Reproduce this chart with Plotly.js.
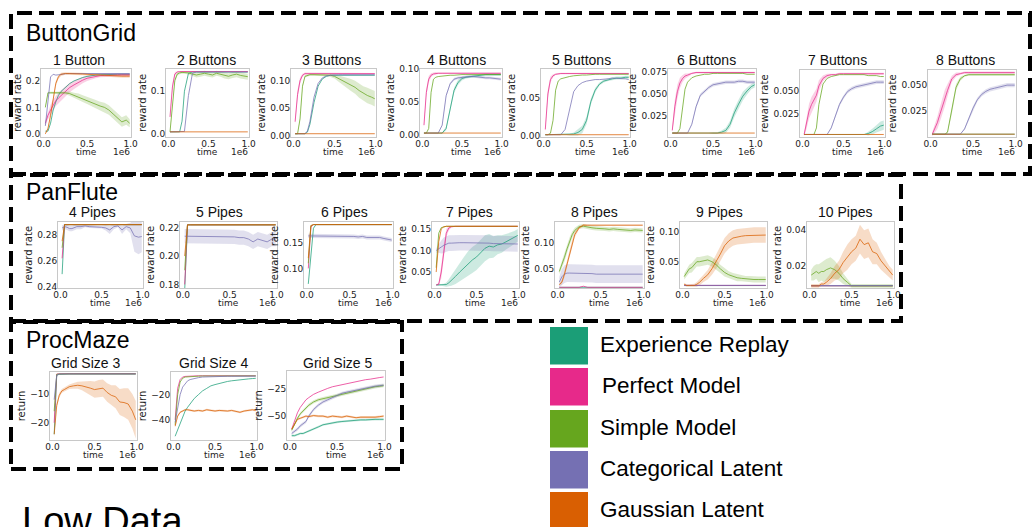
<!DOCTYPE html>
<html><head><meta charset="utf-8">
<script src="https://cdn.plot.ly/plotly-3.0.1.min.js"></script>
<style>html,body{margin:0;padding:0;background:#fff}#chart{width:1034px;height:527px}</style>
</head><body><div id="chart"></div>
<script>
// ---------- series ----------
const seriesNames = ['Experience Replay','Perfect Model','Simple Model','Categorical Latent','Gaussian Latent'];
const seriesColors = ['#1b9e77','#e7298a','#66a61e','#7570b3','#d95f02'];
// time in units of 1e6
const T = [0.02,0.05,0.08,0.11,0.14,0.17,0.2,0.25,0.3,0.35,0.4,0.45,0.5,0.55,0.6,0.65,0.7,0.75,0.8,0.85,0.9,0.95,0.99];

// ---------- ButtonGrid ----------
const b1 = [
 [0.01,0.01,0.04,0.09,0.12,0.145,0.16,0.175,0.19,0.2,0.208,0.213,0.217,0.22,0.222,0.223,0.224,0.224,0.225,0.225,0.225,0.225,0.225],
 [0.04,0.07,0.09,0.11,0.125,0.135,0.145,0.16,0.175,0.185,0.195,0.203,0.21,0.214,0.217,0.22,0.221,0.222,0.222,0.223,0.223,0.223,0.223],
 [0.1,0.155,0.155,0.155,0.155,0.155,0.155,0.155,0.152,0.145,0.14,0.133,0.127,0.12,0.113,0.105,0.1,0.09,0.075,0.06,0.045,0.052,0.04],
 [0.03,0.12,0.215,0.225,0.222,0.223,0.225,0.227,0.228,0.228,0.228,0.228,0.228,0.228,0.228,0.228,0.228,0.228,0.228,0.228,0.228,0.228,0.228],
 [0.0,0.02,0.07,0.13,0.19,0.215,0.225,0.228,0.228,0.228,0.227,0.226,0.225,0.224,0.222,0.221,0.22,0.219,0.219,0.218,0.218,0.218,0.218]];
const b1Band = [null,
 [0.01,0.015,0.02,0.02,0.02,0.02,0.02,0.02,0.018,0.016,0.014,0.012,0.01,0.008,0.007,0.006,0.006,0.005,0.005,0.005,0.005,0.005,0.005],
 [0.005,0.004,0.004,0.004,0.004,0.004,0.004,0.005,0.008,0.01,0.012,0.013,0.014,0.015,0.015,0.016,0.017,0.018,0.018,0.018,0.018,0.018,0.015],
 null,
 [0.003,0.005,0.008,0.01,0.01,0.008,0.006,0.005,0.005,0.005,0.005,0.005,0.005,0.005,0.006,0.006,0.006,0.006,0.006,0.006,0.006,0.006,0.006]];

const b2 = [
 [0.005,0.005,0.005,0.005,0.005,0.03,0.1,0.142,0.145,0.145,0.145,0.145,0.145,0.145,0.145,0.145,0.145,0.145,0.145,0.145,0.145,0.145,0.145],
 [0.04,0.11,0.14,0.145,0.146,0.146,0.146,0.146,0.146,0.146,0.146,0.146,0.146,0.146,0.146,0.146,0.146,0.146,0.146,0.146,0.146,0.146,0.146],
 [0.005,0.06,0.125,0.14,0.143,0.144,0.144,0.143,0.14,0.138,0.14,0.142,0.14,0.138,0.142,0.14,0.137,0.135,0.138,0.14,0.137,0.135,0.134],
 [0.005,0.005,0.005,0.005,0.005,0.005,0.006,0.09,0.142,0.145,0.145,0.145,0.145,0.145,0.145,0.145,0.145,0.145,0.145,0.145,0.145,0.145,0.145],
 [0.005,0.005,0.005,0.005,0.005,0.005,0.005,0.005,0.005,0.005,0.005,0.005,0.005,0.005,0.005,0.005,0.005,0.005,0.005,0.005,0.005,0.005,0.005]];
const b2Band = [null,
 [0.004,0.008,0.005,0.002,0.001,0.001,0.001,0.001,0.001,0.001,0.001,0.001,0.001,0.001,0.001,0.001,0.001,0.001,0.001,0.001,0.001,0.001,0.001],
 [0.002,0.005,0.005,0.004,0.003,0.003,0.003,0.004,0.005,0.006,0.006,0.006,0.006,0.006,0.006,0.006,0.007,0.007,0.007,0.007,0.007,0.007,0.007],
 null, null];

const b3 = [
 [0.003,0.003,0.003,0.003,0.003,0.006,0.02,0.06,0.09,0.103,0.108,0.11,0.11,0.11,0.11,0.11,0.11,0.11,0.11,0.11,0.11,0.11,0.11],
 [0.025,0.075,0.1,0.11,0.113,0.113,0.113,0.113,0.113,0.113,0.113,0.113,0.113,0.113,0.113,0.113,0.113,0.113,0.113,0.113,0.113,0.113,0.113],
 [0.003,0.003,0.03,0.09,0.108,0.11,0.111,0.111,0.111,0.111,0.111,0.11,0.108,0.104,0.1,0.096,0.092,0.088,0.082,0.077,0.073,0.07,0.067],
 [0.003,0.003,0.003,0.003,0.003,0.008,0.025,0.07,0.095,0.105,0.109,0.11,0.111,0.111,0.111,0.111,0.111,0.111,0.111,0.111,0.111,0.111,0.111],
 [0.003,0.003,0.003,0.003,0.003,0.003,0.003,0.003,0.003,0.003,0.003,0.003,0.003,0.003,0.003,0.003,0.003,0.003,0.003,0.003,0.003,0.003,0.003]];
const b3Band = [null,
 [0.004,0.008,0.006,0.003,0.002,0.002,0.002,0.001,0.001,0.001,0.001,0.001,0.001,0.001,0.001,0.001,0.001,0.001,0.001,0.001,0.001,0.001,0.001],
 [0.001,0.001,0.002,0.002,0.002,0.002,0.002,0.002,0.002,0.002,0.003,0.003,0.004,0.006,0.008,0.01,0.011,0.012,0.013,0.013,0.014,0.014,0.014],
 null, null];

const b4 = [
 [0.003,0.003,0.003,0.003,0.003,0.003,0.003,0.003,0.01,0.04,0.068,0.08,0.086,0.088,0.089,0.09,0.091,0.091,0.092,0.092,0.092,0.092,0.092],
 [0.015,0.065,0.085,0.091,0.093,0.094,0.094,0.094,0.094,0.094,0.094,0.094,0.094,0.094,0.094,0.094,0.094,0.094,0.094,0.094,0.094,0.094,0.094],
 [0.003,0.003,0.01,0.065,0.085,0.088,0.089,0.09,0.09,0.091,0.091,0.092,0.092,0.092,0.092,0.092,0.092,0.092,0.092,0.092,0.092,0.092,0.092],
 [0.003,0.003,0.003,0.003,0.003,0.003,0.003,0.015,0.06,0.078,0.085,0.087,0.088,0.089,0.089,0.089,0.088,0.088,0.087,0.087,0.086,0.085,0.085],
 [0.003,0.003,0.003,0.003,0.003,0.003,0.003,0.003,0.003,0.003,0.003,0.003,0.003,0.003,0.003,0.003,0.003,0.003,0.003,0.003,0.003,0.003,0.003]];
const b4Band = [
 [0,0,0,0,0,0,0,0.001,0.003,0.004,0.004,0.004,0.003,0.002,0.002,0.002,0.002,0.002,0.002,0.002,0.002,0.002,0.002],
 [0.003,0.006,0.005,0.003,0.002,0.002,0.001,0.001,0.001,0.001,0.001,0.001,0.001,0.001,0.001,0.001,0.001,0.001,0.001,0.001,0.001,0.001,0.001],
 null,
 [0,0,0,0,0,0,0,0.001,0.002,0.002,0.002,0.002,0.002,0.002,0.002,0.002,0.002,0.002,0.002,0.002,0.002,0.002,0.002],
 null];

const b5 = [
 [0.001,0.001,0.001,0.001,0.001,0.001,0.001,0.001,0.001,0.002,0.004,0.008,0.02,0.045,0.06,0.068,0.072,0.074,0.075,0.076,0.076,0.077,0.077],
 [0.008,0.055,0.074,0.079,0.081,0.082,0.082,0.082,0.082,0.082,0.082,0.082,0.082,0.082,0.082,0.082,0.082,0.082,0.082,0.082,0.082,0.082,0.082],
 [0.001,0.001,0.003,0.02,0.06,0.072,0.075,0.077,0.078,0.079,0.08,0.08,0.08,0.081,0.081,0.081,0.081,0.081,0.081,0.081,0.081,0.081,0.081],
 [0.001,0.001,0.001,0.001,0.001,0.001,0.001,0.008,0.035,0.058,0.066,0.07,0.072,0.073,0.074,0.074,0.075,0.075,0.076,0.076,0.076,0.075,0.074],
 [0.001,0.001,0.001,0.001,0.001,0.001,0.001,0.001,0.001,0.001,0.001,0.001,0.001,0.001,0.001,0.001,0.001,0.001,0.001,0.001,0.001,0.001,0.001]];
const b5Band = [
 [0,0,0,0,0,0,0,0,0.001,0.002,0.004,0.005,0.005,0.004,0.003,0.002,0.002,0.002,0.002,0.002,0.002,0.002,0.002],
 [0.003,0.006,0.004,0.002,0.001,0.001,0.001,0.001,0.001,0.001,0.001,0.001,0.001,0.001,0.001,0.001,0.001,0.001,0.001,0.001,0.001,0.001,0.001],
 null, null, null];

const b6 = [
 [0.005,0.005,0.005,0.005,0.005,0.005,0.005,0.005,0.005,0.005,0.005,0.005,0.005,0.005,0.006,0.008,0.015,0.028,0.038,0.047,0.053,0.058,0.06],
 [0.008,0.035,0.052,0.062,0.067,0.07,0.071,0.073,0.074,0.074,0.074,0.074,0.074,0.074,0.074,0.074,0.074,0.074,0.074,0.074,0.074,0.074,0.074],
 [0.005,0.005,0.005,0.01,0.035,0.055,0.063,0.068,0.07,0.071,0.072,0.072,0.073,0.073,0.073,0.073,0.073,0.073,0.073,0.073,0.072,0.072,0.072],
 [0.005,0.005,0.005,0.005,0.005,0.005,0.005,0.015,0.035,0.048,0.053,0.057,0.06,0.061,0.062,0.063,0.063,0.063,0.064,0.064,0.063,0.063,0.063],
 [0.005,0.005,0.005,0.005,0.005,0.005,0.005,0.005,0.005,0.005,0.005,0.005,0.005,0.005,0.005,0.005,0.005,0.005,0.005,0.005,0.005,0.005,0.005]];
const b6Band = [
 [0,0,0,0,0,0,0,0,0,0,0,0,0.001,0.001,0.002,0.003,0.004,0.005,0.005,0.005,0.004,0.003,0.003],
 [0.002,0.008,0.008,0.006,0.004,0.003,0.002,0.001,0.001,0.001,0.001,0.001,0.001,0.001,0.001,0.001,0.001,0.001,0.001,0.001,0.001,0.001,0.001],
 null,
 [0,0,0,0,0,0,0,0.001,0.002,0.002,0.002,0.002,0.002,0.002,0.002,0.002,0.002,0.002,0.002,0.002,0.002,0.002,0.002],
 null];

const b7 = [
 [0.003,0.003,0.003,0.003,0.003,0.003,0.003,0.003,0.003,0.003,0.003,0.003,0.003,0.003,0.003,0.003,0.003,0.003,0.004,0.006,0.009,0.012,0.013],
 [0.003,0.015,0.028,0.035,0.04,0.045,0.055,0.063,0.066,0.067,0.067,0.068,0.068,0.068,0.068,0.068,0.068,0.068,0.068,0.068,0.068,0.068,0.068],
 [0.003,0.003,0.003,0.003,0.003,0.01,0.035,0.057,0.063,0.065,0.066,0.067,0.067,0.067,0.067,0.067,0.067,0.067,0.066,0.066,0.066,0.065,0.065],
 [0.003,0.003,0.003,0.003,0.003,0.003,0.003,0.003,0.003,0.01,0.022,0.035,0.043,0.049,0.052,0.054,0.055,0.056,0.057,0.058,0.059,0.059,0.059],
 [0.003,0.003,0.003,0.003,0.003,0.003,0.003,0.003,0.003,0.003,0.003,0.003,0.003,0.003,0.003,0.003,0.003,0.003,0.003,0.003,0.003,0.003,0.003]];
const b7Band = [
 [0,0,0,0,0,0,0,0,0,0,0,0,0,0,0,0,0,0,0.002,0.003,0.004,0.005,0.005],
 [0.002,0.006,0.008,0.008,0.008,0.007,0.006,0.003,0.002,0.001,0.001,0.001,0.001,0.001,0.001,0.001,0.001,0.001,0.001,0.001,0.001,0.001,0.001],
 null,
 [0,0,0,0,0,0,0,0,0,0.001,0.002,0.002,0.002,0.002,0.002,0.002,0.002,0.002,0.002,0.002,0.002,0.002,0.002],
 null];

const b8 = [
 [0.003,0.003,0.003,0.003,0.003,0.003,0.003,0.003,0.003,0.003,0.003,0.003,0.003,0.003,0.003,0.003,0.003,0.003,0.003,0.003,0.003,0.003,0.003],
 [0.003,0.008,0.014,0.022,0.03,0.038,0.045,0.056,0.06,0.061,0.062,0.062,0.062,0.062,0.062,0.062,0.062,0.062,0.062,0.062,0.062,0.062,0.062],
 [0.003,0.003,0.003,0.003,0.003,0.003,0.005,0.025,0.048,0.056,0.059,0.06,0.06,0.06,0.06,0.06,0.06,0.06,0.06,0.06,0.06,0.06,0.06],
 [0.003,0.003,0.003,0.003,0.003,0.003,0.003,0.003,0.003,0.003,0.008,0.018,0.028,0.036,0.041,0.044,0.046,0.047,0.048,0.049,0.05,0.05,0.05],
 [0.003,0.003,0.003,0.003,0.003,0.003,0.003,0.003,0.003,0.003,0.003,0.003,0.003,0.003,0.003,0.003,0.003,0.003,0.003,0.003,0.003,0.003,0.003]];
const b8Band = [null,
 [0.002,0.004,0.006,0.007,0.008,0.008,0.006,0.003,0.002,0.001,0.001,0.001,0.001,0.001,0.001,0.001,0.001,0.001,0.001,0.001,0.001,0.001,0.001],
 [0,0,0,0,0,0,0.001,0.003,0.003,0.002,0.001,0.001,0.001,0.001,0.001,0.001,0.001,0.001,0.001,0.001,0.001,0.001,0.001],
 [0,0,0,0,0,0,0,0,0,0,0.001,0.002,0.002,0.002,0.002,0.002,0.002,0.002,0.002,0.002,0.002,0.002,0.002],
 null];

// ---------- PanFlute ----------
const p4 = [
 [0.25,0.2875,0.2875,0.2875,0.2875,0.2875,0.2875,0.2875,0.2875,0.2875,0.2875,0.2875,0.2875,0.2875,0.2875,0.2875,0.2875,0.2875,0.2875,0.2875,0.2875,0.2875,0.2875],
 [0.262,0.2875,0.2875,0.2875,0.2875,0.2875,0.2875,0.2875,0.2875,0.2875,0.2875,0.2875,0.2875,0.2875,0.2875,0.2875,0.2875,0.2875,0.2875,0.2875,0.2875,0.2875,0.2875],
 [0.27,0.2875,0.2875,0.2875,0.2875,0.2875,0.2875,0.2875,0.2875,0.2875,0.2875,0.2875,0.2875,0.2875,0.2875,0.2875,0.2875,0.2875,0.2875,0.2875,0.2875,0.2875,0.2875],
 [0.285,0.286,0.2855,0.2845,0.2845,0.285,0.286,0.286,0.2865,0.286,0.286,0.2855,0.2855,0.285,0.2835,0.286,0.2865,0.2835,0.286,0.285,0.279,0.278,0.2785],
 [0.275,0.2875,0.2875,0.2875,0.2875,0.2875,0.2875,0.2875,0.2875,0.2875,0.2875,0.2875,0.2875,0.2875,0.2875,0.2875,0.2875,0.2875,0.2875,0.2875,0.2875,0.2875,0.2875]];
const p4Band = [null, null, null,
 [0.002,0.002,0.002,0.002,0.002,0.002,0.002,0.002,0.001,0.001,0.001,0.001,0.001,0.002,0.003,0.002,0.001,0.003,0.002,0.004,0.012,0.013,0.012],
 null];

const p5 = [
 [0.176,0.222,0.222,0.222,0.222,0.222,0.222,0.222,0.222,0.222,0.222,0.222,0.222,0.222,0.222,0.222,0.222,0.222,0.222,0.222,0.222,0.222,0.222],
 [0.18,0.222,0.222,0.222,0.222,0.222,0.222,0.222,0.222,0.222,0.222,0.222,0.222,0.222,0.222,0.222,0.222,0.222,0.222,0.222,0.222,0.222,0.222],
 [0.19,0.222,0.222,0.222,0.222,0.222,0.222,0.222,0.222,0.222,0.222,0.222,0.222,0.222,0.222,0.222,0.222,0.222,0.222,0.222,0.222,0.222,0.222],
 [0.214,0.214,0.214,0.214,0.214,0.214,0.214,0.214,0.214,0.214,0.214,0.2138,0.2136,0.2135,0.213,0.213,0.212,0.21,0.212,0.211,0.21,0.212,0.212],
 [0.2,0.222,0.222,0.222,0.222,0.222,0.222,0.222,0.222,0.222,0.222,0.222,0.222,0.222,0.222,0.222,0.222,0.222,0.222,0.222,0.222,0.222,0.222]];
const p5Band = [null, null, null,
 [0.005,0.005,0.005,0.005,0.005,0.005,0.005,0.005,0.005,0.005,0.005,0.005,0.005,0.005,0.005,0.005,0.005,0.005,0.005,0.005,0.005,0.005,0.005],
 null];

const p6 = [
 [0.07,0.12,0.178,0.185,0.185,0.185,0.185,0.185,0.185,0.185,0.185,0.185,0.185,0.185,0.185,0.185,0.185,0.185,0.185,0.185,0.185,0.185,0.185],
 [0.1,0.18,0.185,0.185,0.185,0.185,0.185,0.185,0.185,0.185,0.185,0.185,0.185,0.185,0.185,0.185,0.185,0.185,0.185,0.185,0.185,0.185,0.185],
 [0.11,0.183,0.185,0.185,0.185,0.185,0.185,0.185,0.185,0.185,0.185,0.185,0.185,0.185,0.185,0.185,0.185,0.185,0.185,0.185,0.185,0.185,0.185],
 [0.163,0.163,0.163,0.163,0.163,0.163,0.163,0.163,0.163,0.162,0.162,0.162,0.162,0.162,0.161,0.162,0.16,0.16,0.159,0.16,0.158,0.156,0.155],
 [0.12,0.183,0.185,0.185,0.185,0.185,0.185,0.185,0.185,0.185,0.185,0.185,0.185,0.185,0.185,0.185,0.185,0.185,0.185,0.185,0.185,0.185,0.185]];
const p6Band = [null, null, null,
 [0.004,0.004,0.004,0.004,0.004,0.004,0.004,0.004,0.004,0.004,0.004,0.004,0.004,0.004,0.004,0.004,0.004,0.004,0.004,0.004,0.004,0.004,0.004],
 null];

const p7 = [
 [0.02,0.02,0.02,0.02,0.021,0.025,0.03,0.04,0.05,0.06,0.07,0.078,0.085,0.095,0.105,0.11,0.108,0.113,0.115,0.12,0.125,0.13,0.135],
 [0.02,0.022,0.05,0.1,0.14,0.152,0.155,0.156,0.156,0.156,0.156,0.156,0.156,0.156,0.156,0.156,0.156,0.156,0.156,0.156,0.156,0.156,0.156],
 [0.06,0.14,0.153,0.155,0.156,0.156,0.156,0.156,0.156,0.156,0.156,0.156,0.156,0.156,0.156,0.156,0.156,0.156,0.156,0.156,0.156,0.156,0.156],
 [0.1,0.105,0.108,0.112,0.115,0.117,0.117,0.118,0.118,0.118,0.118,0.118,0.117,0.117,0.117,0.117,0.116,0.116,0.115,0.115,0.115,0.115,0.115],
 [0.05,0.12,0.15,0.155,0.156,0.156,0.156,0.156,0.156,0.156,0.156,0.156,0.156,0.156,0.156,0.156,0.156,0.156,0.156,0.156,0.156,0.156,0.156]];
const p7Band = [
 [0.001,0.001,0.002,0.003,0.005,0.008,0.012,0.018,0.022,0.025,0.028,0.03,0.03,0.03,0.03,0.028,0.025,0.022,0.02,0.018,0.016,0.015,0.015],
 [0.001,0.003,0.015,0.015,0.01,0.005,0.002,0.001,0.001,0.001,0.001,0.001,0.001,0.001,0.001,0.001,0.001,0.001,0.001,0.001,0.001,0.001,0.001],
 null,
 [0.005,0.01,0.015,0.018,0.018,0.018,0.018,0.018,0.018,0.018,0.018,0.018,0.018,0.018,0.018,0.018,0.018,0.018,0.018,0.018,0.018,0.018,0.018],
 null];

const p8 = [
 [0.015,0.015,0.015,0.015,0.015,0.015,0.015,0.015,0.015,0.015,0.015,0.015,0.015,0.015,0.015,0.015,0.015,0.015,0.015,0.015,0.015,0.015,0.015],
 [0.015,0.015,0.015,0.015,0.015,0.015,0.015,0.015,0.017,0.015,0.015,0.015,0.015,0.016,0.015,0.015,0.015,0.015,0.015,0.015,0.015,0.015,0.015],
 [0.045,0.058,0.072,0.088,0.103,0.115,0.123,0.13,0.131,0.129,0.128,0.127,0.127,0.126,0.125,0.126,0.125,0.124,0.124,0.123,0.124,0.123,0.123],
 [0.025,0.035,0.04,0.042,0.042,0.042,0.042,0.042,0.041,0.041,0.041,0.04,0.04,0.04,0.04,0.041,0.04,0.04,0.04,0.04,0.04,0.04,0.04],
 [0.02,0.025,0.04,0.06,0.08,0.1,0.115,0.128,0.133,0.133,0.133,0.133,0.133,0.133,0.133,0.133,0.133,0.133,0.133,0.133,0.133,0.133,0.133]];
const p8Band = [null, null,
 [0.005,0.007,0.008,0.008,0.007,0.006,0.005,0.004,0.004,0.004,0.004,0.004,0.004,0.004,0.004,0.004,0.004,0.004,0.004,0.004,0.004,0.004,0.004],
 [0.01,0.015,0.017,0.017,0.017,0.017,0.017,0.017,0.017,0.017,0.017,0.017,0.017,0.017,0.017,0.017,0.017,0.017,0.017,0.017,0.017,0.017,0.017],
 [0.002,0.004,0.006,0.007,0.007,0.006,0.005,0.003,0.002,0.001,0.001,0.001,0.001,0.001,0.001,0.001,0.001,0.001,0.001,0.001,0.001,0.001,0.001]];

const p9 = [
 [0.0098,0.0098,0.0098,0.0098,0.0098,0.0098,0.0098,0.0098,0.0098,0.0098,0.0098,0.0098,0.0098,0.0098,0.0098,0.0098,0.0098,0.0098,0.0098,0.0098,0.0098,0.0098,0.0098],
 [0.01,0.01,0.01,0.01,0.01,0.01,0.01,0.01,0.01,0.01,0.01,0.01,0.01,0.01,0.01,0.01,0.01,0.01,0.01,0.01,0.01,0.01,0.01],
 [0.025,0.032,0.038,0.04,0.045,0.05,0.05,0.052,0.053,0.05,0.045,0.038,0.032,0.028,0.025,0.023,0.022,0.021,0.021,0.02,0.02,0.02,0.02],
 [0.0102,0.0102,0.0102,0.0102,0.0102,0.0102,0.0102,0.0102,0.0102,0.0102,0.0102,0.0102,0.0102,0.0102,0.0102,0.0102,0.0102,0.0102,0.0102,0.0102,0.0102,0.0102,0.0102],
 [0.012,0.01,0.01,0.01,0.01,0.012,0.015,0.022,0.028,0.038,0.05,0.063,0.077,0.085,0.09,0.092,0.093,0.094,0.094,0.095,0.095,0.095,0.095]];
const p9Band = [null, null,
 [0.005,0.006,0.007,0.008,0.008,0.008,0.008,0.008,0.008,0.008,0.008,0.007,0.007,0.006,0.006,0.006,0.005,0.005,0.005,0.005,0.005,0.005,0.005],
 null,
 [0.002,0.002,0.002,0.002,0.003,0.004,0.005,0.006,0.008,0.01,0.012,0.013,0.013,0.013,0.013,0.013,0.013,0.013,0.013,0.013,0.013,0.013,0.013]];

const p10 = [
 [0.009,0.009,0.009,0.009,0.009,0.009,0.009,0.009,0.009,0.009,0.009,0.009,0.009,0.009,0.009,0.009,0.009,0.009,0.009,0.009,0.009,0.009,0.009],
 [0.009,0.009,0.009,0.009,0.009,0.009,0.009,0.009,0.009,0.009,0.009,0.009,0.009,0.009,0.009,0.009,0.009,0.009,0.009,0.009,0.009,0.009,0.009],
 [0.015,0.016,0.017,0.016,0.017,0.017,0.018,0.019,0.018,0.016,0.013,0.011,0.009,0.009,0.009,0.009,0.009,0.009,0.009,0.009,0.009,0.009,0.009],
 [0.0092,0.0092,0.0092,0.0092,0.0092,0.0092,0.0092,0.0092,0.0092,0.0092,0.0092,0.0092,0.0092,0.0092,0.0092,0.0092,0.0092,0.0092,0.0092,0.0092,0.0092,0.0092,0.0092],
 [0.009,0.009,0.009,0.009,0.01,0.01,0.011,0.013,0.016,0.018,0.022,0.025,0.028,0.03,0.035,0.032,0.033,0.028,0.027,0.023,0.02,0.017,0.015]];
const p10Band = [null, null,
 [0.003,0.004,0.004,0.005,0.005,0.006,0.006,0.006,0.005,0.004,0.003,0.002,0.001,0.001,0.001,0.001,0.001,0.001,0.001,0.001,0.001,0.001,0.001],
 null,
 [0.001,0.001,0.001,0.001,0.001,0.001,0.002,0.003,0.004,0.005,0.006,0.007,0.007,0.007,0.008,0.008,0.008,0.007,0.006,0.005,0.004,0.003,0.003]];

// ---------- ProcMaze ----------
const g3 = [
 [-24,-3.5,-3.2,-3.1,-3.1,-3,-3,-3,-3,-3,-3,-3,-3,-3,-3,-3,-3,-3,-3,-3,-3,-3,-3],
 [-20,-3.1,-3,-3,-3,-3,-3,-3,-3,-3,-3,-3,-3,-3,-3,-3,-3,-3,-3,-3,-3,-3,-3],
 [-16,-3.2,-3.1,-3.1,-3.1,-3.1,-3.1,-3.1,-3.1,-3.1,-3.1,-3.1,-3.1,-3.1,-3.1,-3.1,-3.1,-3.1,-3.1,-3.1,-3.1,-3.1,-3.1],
 [-12,-3.5,-3.1,-3.1,-3.1,-3.1,-3.1,-3.1,-3.1,-3.1,-3.1,-3.1,-3.1,-3.1,-3.1,-3.1,-3.1,-3.1,-3.1,-3.1,-3.1,-3.1,-3.1],
 [-24,-14,-10.5,-9,-8.5,-8,-7.5,-7.2,-7,-7.2,-7.5,-8,-8.5,-8.2,-8,-9.5,-10.5,-11,-12.8,-13,-13.5,-16,-19]];
const g3Band = [null, null, null, null,
 [1,1,0.8,0.7,0.7,0.7,0.8,1,1.2,1.5,2,2.5,2.8,3,3,3.2,3.5,4,4.5,5,5.5,6,6.5]];

const g4 = [
 [-53,-48,-42,-37,-33,-30,-27,-23,-20,-17,-15,-13,-12,-11,-10,-9.5,-9,-8.5,-8,-7.8,-7.5,-7.2,-7],
 [-40,-15,-8,-6,-5.5,-5.3,-5.2,-5.1,-5,-5,-5,-5,-5,-5,-5,-5,-5,-5,-5,-5,-5,-5,-5],
 [-44,-20,-10,-7,-6,-5.8,-5.5,-5.4,-5.3,-5.2,-5.2,-5.1,-5.1,-5.1,-5.1,-5.1,-5.1,-5.1,-5.1,-5.1,-5.1,-5.1,-5.1],
 [-42,-30,-20,-14,-11,-9,-8,-7,-6.5,-6,-5.8,-5.6,-5.5,-5.5,-5.4,-5.4,-5.4,-5.3,-5.3,-5.3,-5.3,-5.3,-5.3],
 [-45,-37,-34,-33,-32,-32,-32.5,-33,-32.5,-33,-32,-32.5,-33,-32.5,-33,-33,-32.5,-33,-34,-33,-32.5,-32,-32.5]];
const g4Band = [null, null, null, null,
 [1,1,0.8,0.8,0.8,0.8,0.8,0.8,0.8,0.8,0.8,0.8,0.8,0.8,0.8,0.8,0.8,0.8,0.8,0.8,0.8,0.8,0.8]];

const g5 = [
 [-68,-68,-67,-66,-66,-65,-64,-62,-60,-58,-57,-56,-55.5,-55,-54.5,-54,-54,-53.5,-53.5,-53,-53,-53,-53],
 [-62,-54,-47,-42,-38,-35,-33,-30,-28,-26,-24.5,-23,-22,-21,-20,-19,-18,-17,-16.5,-16,-15,-14.5,-14],
 [-63,-57,-52,-48,-45,-42,-40,-37,-35,-34,-33,-32,-30.5,-30,-29,-28,-27,-26,-25,-24,-23,-22.5,-22],
 [-66,-64,-62,-59,-57,-55,-50,-44,-40,-37,-35,-33,-31,-29,-28,-27,-26,-25,-24,-23.5,-22.5,-22,-21.5],
 [-62,-57,-53,-52,-51,-50,-50.5,-49.5,-50,-50,-51,-50,-50.5,-51,-50,-51,-51.5,-51,-51,-51.5,-51,-50.5,-50]];
const g5Band = [
 [1,1,1,1,1,1,1,1,1,1,1,1,1,1,1,1,1,1,1,1,1,1,1],
 null,
 [1.5,1.5,1.5,1.5,1.5,1.5,1.5,1.5,1.5,1.5,1.5,1.5,1.5,1.5,1.5,1.5,1.5,1.5,1.5,1.5,1.5,1.5,1.5],
 [1.5,1.5,1.5,1.5,1.5,1.5,1.5,1.5,1.5,1.5,1.5,1.5,1.5,1.5,1.5,1.5,1.5,1.5,1.5,1.5,1.5,1.5,1.5],
 [1,1,1,1,1,1,1,1,1,1,1,1,1,1,1,1,1,1,1,1,1,1,1]];

// ---------- panel titles, ticks ----------
const panelTitles = ['1 Button','2 Buttons','3 Buttons','4 Buttons','5 Buttons','6 Buttons','7 Buttons','8 Buttons',
  '4 Pipes','5 Pipes','6 Pipes','7 Pipes','8 Pipes','9 Pipes','10 Pipes',
  'Grid Size 3','Grid Size 4','Grid Size 5'];
const panelData = [b1,b2,b3,b4,b5,b6,b7,b8,p4,p5,p6,p7,p8,p9,p10,g3,g4,g5];
const panelBands = [b1Band,b2Band,b3Band,b4Band,b5Band,b6Band,b7Band,b8Band,p4Band,p5Band,p6Band,p7Band,p8Band,p9Band,p10Band,g3Band,g4Band,g5Band];
const yTickVals = [[0,0.1,0.2],[0,0.1],[0,0.05,0.1],[0,0.05,0.1],[0,0.05],[0.025,0.05,0.075],[0.025,0.05],[0.025,0.05],
  [0.24,0.26,0.28],[0.18,0.2,0.22],[0.1,0.15],[0.05,0.1,0.15],[0.05,0.1],[0.05,0.1],[0.02,0.04],
  [-20,-10],[-40,-20],[-50,-25]];
const yTickText = [['0.0','0.1','0.2'],['0.0','0.1'],['0.00','0.05','0.10'],['0.00','0.05','0.10'],['0.00','0.05'],['0.025','0.050','0.075'],['0.025','0.050'],['0.025','0.050'],
  ['0.24','0.26','0.28'],['0.18','0.20','0.22'],['0.10','0.15'],['0.05','0.10','0.15'],['0.05','0.10'],['0.05','0.10'],['0.02','0.04'],
  ['\u221220','\u221210'],['\u221240','\u221220'],['\u221250','\u221225']];
const xTickVals = [0,0.5,1];
const xTickText = ['0.0','0.5','1.0'];
const yLabels = ['reward rate','reward rate','reward rate','reward rate','reward rate','reward rate','reward rate','reward rate',
  'reward rate','reward rate','reward rate','reward rate','reward rate','reward rate','reward rate','return','return','return'];
const sectionTitles = ['ButtonGrid','PanFlute','ProcMaze'];

// ---------- layout geometry (pixels) ----------
const W = 1034, H = 527;
const yRanges = [[-0.012,0.245],[-0.007,0.152],[-0.003,0.1215],[-0.003,0.1005],[-0.002,0.088],[0.0005,0.078],[0.0003,0.072],[0.0003,0.0645],
  [0.2395,0.2895],[0.1775,0.224],[0.062,0.19],[0.013,0.166],[0.0137,0.139],[0.0057,0.117],[0.0078,0.0446],
  [-26,-2.4],[-56,-2],[-72,-8.5]];
const boxes = [ // [left,right,top,bottom]
  [41,131,69,137],[166,249,69,137],[291,376,69,137],[420,502,69,137],[541,630,69,137],[668,756,69,137],[800,885,70,137],[928,1016,70,137],
  [58,143,222,288],[180,277,222,288],[304,393,222,288],[432,519,222,288],[555,644,222,288],[680,767,222,288],[807,894,222,288],
  [50,137,372,440],[171,257,372,440],[287,385,371,440]];
const titleCenters = [79,206,331,456,581,706,837,965, 92,219,344,469,594,719,845, 85,213,337];
const rowTitleY = [60,60,60,60,60,60,60,60, 212,212,212,212,212,212,212, 363,363,363];
const rowTimeY  = [152.5,152.5,152.5,152.5,152.5,152.5,152.5,152.5, 303,303,303,303,303,303,303, 455,455,455];

const FONT = 'Liberation Sans, Arial, sans-serif';
const MFONT = 'DejaVu Sans, sans-serif';

function rgba(hex,a){const n=parseInt(hex.slice(1),16);return `rgba(${n>>16},${(n>>8)&255},${n&255},${a})`;}

panelData.forEach((d,i)=>{d.forEach((s,j)=>{if(s.length!==T.length) throw new Error('len '+panelTitles[i]+' s'+j+' '+s.length);});
  panelBands[i].forEach((s,j)=>{if(s&&s.length!==T.length) throw new Error('band len '+panelTitles[i]+' s'+j+' '+s.length);});});

const traces = [];
const layout = {width:W,height:H,margin:{l:0,r:0,t:0,b:0},paper_bgcolor:'#fff',plot_bgcolor:'#fff',
  showlegend:false,font:{family:FONT,color:'#000'},shapes:[],annotations:[]};

panelData.forEach((data,i)=>{
  const k=i+1, xa='x'+(k===1?'':k), ya='y'+(k===1?'':k);
  const [l,r,t,b]=boxes[i];
  data.forEach((ys,s)=>{
    const bd=panelBands[i][s]; if(!bd) return;
    traces.push({x:T,y:ys.map((v,j)=>v-bd[j]),xaxis:xa,yaxis:ya,mode:'lines',line:{width:0,color:'rgba(0,0,0,0)'},hoverinfo:'skip'});
    traces.push({x:T,y:ys.map((v,j)=>v+bd[j]),xaxis:xa,yaxis:ya,mode:'lines',line:{width:0,color:'rgba(0,0,0,0)'},fill:'tonexty',fillcolor:rgba(seriesColors[s],0.22),hoverinfo:'skip'});
  });
  data.forEach((ys,s)=>traces.push({x:T,y:ys,xaxis:xa,yaxis:ya,mode:'lines',name:seriesNames[s],line:{color:seriesColors[s],width:1},opacity:0.75}));
  const axBase = {showline:true,mirror:true,linecolor:'#c8c8c8',linewidth:1,showgrid:false,zeroline:false,ticks:'',
    tickfont:{family:MFONT,size:9,color:'#222'},fixedrange:true};
  layout['xaxis'+(k===1?'':k)] = Object.assign({},axBase,{domain:[l/W,r/W],anchor:ya,range:[-0.03,1.005],
    tickvals:xTickVals,ticktext:xTickText,ticklabelstandoff:-2});
  layout['yaxis'+(k===1?'':k)] = Object.assign({},axBase,{domain:[1-b/H,1-t/H],anchor:xa,range:yRanges[i],
    tickvals:yTickVals[i],ticktext:yTickText[i],ticklabelstandoff:-2,
    title:{text:yLabels[i],font:{family:MFONT,size:10,color:'#222'},standoff:2}});
  layout.annotations.push({text:panelTitles[i],xref:'paper',yref:'paper',x:titleCenters[i]/W,y:1-rowTitleY[i]/H,
    xanchor:'center',yanchor:'middle',showarrow:false,font:{family:FONT,size:14,color:'#111'}});
  layout.annotations.push({text:'time',xref:'paper',yref:'paper',x:((l+r)/2)/W,y:1-rowTimeY[i]/H,
    xanchor:'center',yanchor:'middle',showarrow:false,font:{family:MFONT,size:9,color:'#222'}});
  layout.annotations.push({text:'1e6',xref:'paper',yref:'paper',x:(r+1)/W,y:1-rowTimeY[i]/H,
    xanchor:'right',yanchor:'middle',showarrow:false,font:{family:MFONT,size:9,color:'#222'}});
});

// dashed group boxes
const groupBoxes = [[11,1030,13,174],[11,901,175,321],[11,402,322,469]];
groupBoxes.forEach(([x0,x1,y0,y1])=>layout.shapes.push({type:'rect',xref:'paper',yref:'paper',x0:x0/W,x1:x1/W,y0:1-y1/H,y1:1-y0/H,
  line:{color:'#000',width:4,dash:'15px,7px'},fillcolor:'rgba(0,0,0,0)'}));
const sectionY = [33,192,340];
sectionTitles.forEach((s,i)=>layout.annotations.push({text:s,xref:'paper',yref:'paper',x:24/W,y:1-sectionY[i]/H,
  xanchor:'left',yanchor:'middle',showarrow:false,font:{family:FONT,size:23,color:'#000'}}));

// legend
const legendTop = [327,368,410,451,492];
const legendTextX = [598,600,598,598,598];
seriesNames.forEach((n,i)=>{
  layout.shapes.push({type:'rect',xref:'paper',yref:'paper',x0:550/W,x1:588/W,y0:1-(legendTop[i]+37.5)/H,y1:1-legendTop[i]/H,
    line:{width:0},fillcolor:seriesColors[i]});
  layout.annotations.push({text:n,xref:'paper',yref:'paper',x:legendTextX[i]/W,y:1-(legendTop[i]+17)/H,
    xanchor:'left',yanchor:'middle',showarrow:false,font:{family:FONT,size:22.5,color:'#000'}});
});

layout.annotations.push({text:'Low Data',xref:'paper',yref:'paper',x:20/W,y:1-521/H,xanchor:'left',yanchor:'middle',
  showarrow:false,font:{family:FONT,size:38,color:'#000'}});

Plotly.newPlot('chart',traces,layout,{staticPlot:true,displayModeBar:false});
</script>
</body></html>
